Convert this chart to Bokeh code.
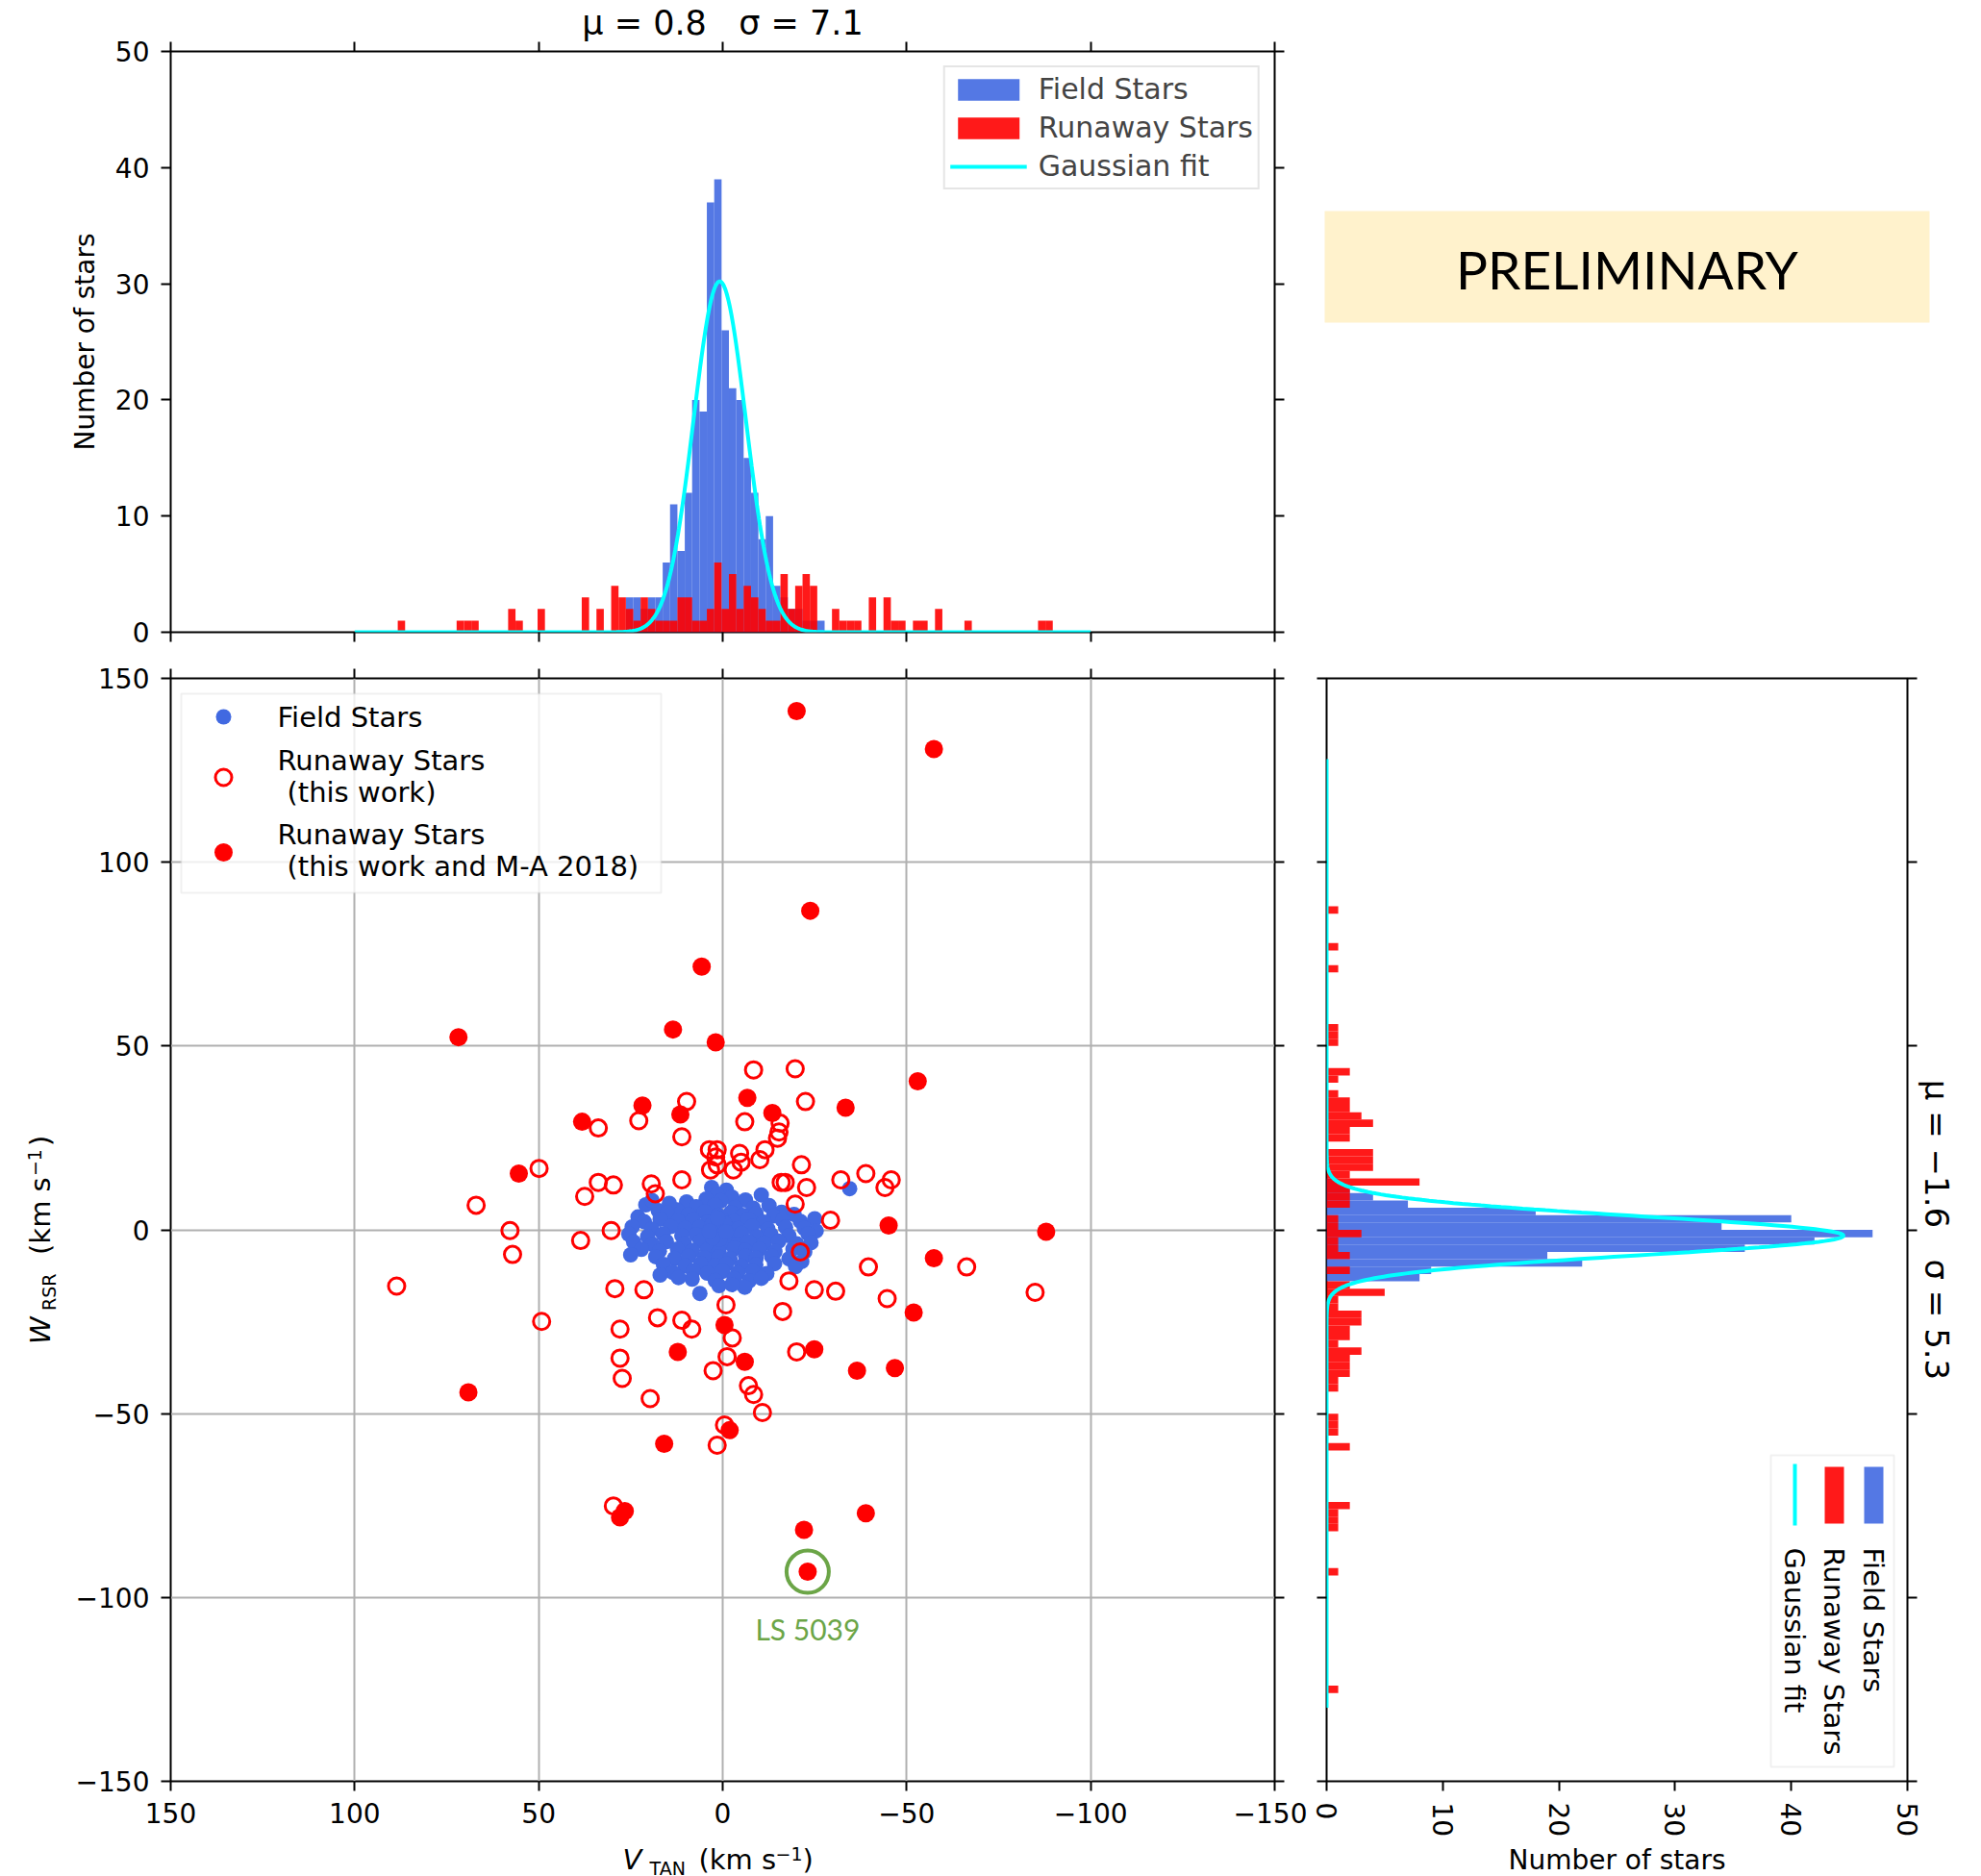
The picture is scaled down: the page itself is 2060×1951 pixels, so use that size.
import math
import numpy as np
from bokeh.plotting import figure
from bokeh.models import (Range1d, FixedTicker, LinearAxis, Label, Legend, LegendItem,
                          BoxAnnotation, Grid)
from bokeh.layouts import row, column
from bokeh.embed import file_html
from bokeh.resources import INLINE
from bokeh.core.properties import value

# ---------------------------------------------------------------- data
# Field stars: (V_TAN, W_RSR) in km/s
FIELD_STARS = [
    (3.0, 11.5), (-1.0, 10.8), (1.5, 9.6), (-34.5, 11.2),
    (4.5, 8.4), (-2.5, 8.9), (0.5, 7.9), (-6.2, 8.1), (9.8, 7.6), (-10.5, 9.5),
    (7.2, 6.3), (2.1, 6.8), (-3.4, 6.1), (-8.3, 5.9), (12.4, 5.4), (-12.6, 6.6),
    (17.5, 5.2), (-16.0, 4.8), (20.9, 6.8), (19.2, 8.0), (14.5, 7.2),
    (15.1, 4.6), (9.3, 4.2), (5.0, 4.9), (1.2, 4.0), (-2.2, 4.7), (-5.4, 3.9),
    (-9.1, 4.4), (-13.8, 3.8), (-19.4, 4.2), (23.0, 3.5),
    (21.3, 2.2), (17.0, 2.9), (12.2, 2.4), (8.1, 2.7), (4.3, 2.0), (0.1, 2.6),
    (-3.1, 2.2), (-7.0, 2.9), (-11.2, 2.1), (-16.3, 2.6), (-21.1, 2.3), (-25.0, 3.0),
    (24.6, 0.8), (19.3, 0.2), (14.1, 0.9), (10.2, 0.4), (6.3, 0.7), (2.2, 0.1),
    (-1.1, 0.8), (-4.2, 0.3), (-8.0, 0.9), (-12.3, 0.2), (-17.1, 0.7), (-22.2, 0.4),
    (-25.4, -0.3),
    (25.5, -1.2), (20.4, -1.8), (16.2, -1.1), (11.1, -1.6), (7.2, -1.3), (3.4, -1.9),
    (0.2, -1.2), (-2.3, -1.7), (-5.1, -1.0), (-9.2, -1.9), (-13.1, -1.3), (-18.0, -1.6),
    (-23.2, -1.1),
    (24.2, -3.3), (19.1, -3.9), (15.3, -3.2), (10.4, -3.7), (6.1, -3.1), (2.3, -3.8),
    (-1.2, -3.4), (-4.0, -3.9), (-7.1, -3.2), (-11.3, -3.6), (-15.2, -3.1), (-20.1, -3.8),
    (-24.0, -3.5),
    (22.1, -5.3), (17.2, -5.8), (12.3, -5.2), (8.2, -5.7), (4.1, -5.4), (1.0, -5.9),
    (-3.2, -5.1), (-6.1, -5.6), (-10.0, -5.3), (-14.2, -5.9), (-19.1, -5.2), (-22.3, -6.0),
    (25.0, -6.8),
    (18.2, -7.3), (13.1, -7.8), (9.3, -7.2), (5.0, -7.6), (1.1, -7.4), (-2.0, -7.9),
    (-6.2, -7.1), (-9.1, -7.7), (-13.3, -7.2), (-18.0, -7.9), (-21.5, -8.6),
    (16.1, -9.4), (10.2, -9.8), (6.0, -9.2), (2.1, -9.7), (-1.0, -9.3), (-5.2, -9.9),
    (-9.0, -9.5), (-14.1, -9.2), (-19.8, -10.0),
    (13.5, -11.6), (8.0, -11.2), (4.2, -11.8), (0.0, -11.3), (-4.1, -11.7), (-8.2, -11.4),
    (-12.0, -11.9), (17.0, -12.3),
    (8.3, -13.4), (2.0, -13.8), (-3.1, -13.3), (-7.2, -13.9), (-10.5, -13.2), (12.0, -13.0),
    (1.0, -15.2), (-6.0, -15.6), (-2.5, -14.9), (6.2, -17.3),
    (1.8, -0.6), (3.0, 1.3), (0.8, -2.6), (2.7, -2.2), (-0.5, 1.7), (1.4, 3.2),
    (3.6, -0.4), (-0.9, -0.5),
]
FIELD_V = [s[0] for s in FIELD_STARS]
FIELD_W = [s[1] for s in FIELD_STARS]

# Runaway stars (this work) -- open circles
RUN_V = [-8.4, -19.7, 9.8, -22.5, 22.8, -6.0, 33.8, -15.6, -15.3, 11.1, 3.6, 1.5, 1.9, 1.5,
         3.3, -4.6, -5.0, -2.9, -10.1, -11.5, -14.9, -21.4, -38.9, -32.1, -15.9, -17.0,
         -22.8, -19.7, -29.3, 11.1, 19.4, 18.3, 29.7, 33.8, 30.3, -21.1, -39.6, 29.3,
         21.4, -18.0, -24.9, -30.7, -0.9, -16.3, 17.7, 11.1, 8.4, 27.9, -2.6, -44.7,
         -66.3, -84.9, 37.5, 38.6, 67.0, 57.8, 57.1, 49.9, 88.6, 49.2, 27.9, 27.3, 19.7,
         -1.2, 2.6, -7.0, -8.4, -10.8, -0.5, 1.5, -20.1, 29.7, -44.1, -45.8]
RUN_W = [43.5, 43.8, 34.9, 34.9, 29.7, 29.4, 27.7, 29.0, 26.6, 25.3, 21.8, 21.8, 19.8, 17.7,
         16.3, 20.8, 18.4, 16.3, 19.1, 21.8, 24.9, 17.7, 15.3, 13.6, 12.9, 12.9,
         11.5, 7.0, 2.6, 13.6, 12.5, 9.8, 12.2, 12.9, -0.2, -6.0, -10.1, -16.0,
         -16.3, -13.9, -16.3, -16.7, -20.4, -22.2, -23.9, -24.6, -27.0, -27.0, -29.4, -18.7,
         -10.1, -17.0, 9.1, -2.9, 6.7, -0.2, -6.7, 16.7, -15.3, -24.9, -34.9, -40.4, -45.9,
         -34.5, -38.3, -42.4, -44.8, -49.7, -53.1, -58.6, -33.2, -75.1, 11.5, 13.6]

# LS 5039
LS5039_V = -23.1
LS5039_W = -93.0

# Runaway stars (this work and M-A 2018) -- filled circles
RUNMA_V = [-20.1, -57.4, -23.8, 5.7, 13.5, 71.8, 1.9, -53.0, -6.7, 21.8, -33.4, 11.5, -13.5,
           38.2, 55.4, -45.1, -87.9, -57.4, -51.9, -0.5, 12.2, -6.0, -24.9, -36.5, -46.8,
           69.1, -1.9, 15.9, -38.9, 26.6, 27.9, -22.1, LS5039_V]
RUNMA_W = [141.1, 130.8, 86.8, 71.6, 54.5, 52.4, 51.0, 40.4, 35.9, 33.8, 33.2, 31.4, 31.8,
           29.4, 15.3, 1.2, -0.5, -7.7, -22.5, -25.9, -33.2, -35.9, -32.5, -38.3, -37.6,
           -44.2, -54.5, -58.2, -77.1, -76.5, -78.2, -81.6, LS5039_W]

BIN_W = 2.0
# Top histogram (V_TAN): lower bin edges and counts
TOP_FIELD_LO = [-27.7, -25.7, -23.7, -21.7, -19.7, -17.7, -15.7, -13.7, -11.7, -9.7, -7.7,
                -5.7, -3.7, -1.7, 0.3, 2.3, 4.3, 6.3, 8.3, 10.3, 12.3, 14.3, 16.3, 18.3,
                20.3, 22.3, 24.3]
TOP_FIELD_N = [1, 1, 1, 2, 2, 3, 4, 10, 8, 12, 15, 20, 21, 26, 39, 37, 19, 20, 12, 7, 11,
               6, 3, 3, 2, 3, 3]
TOP_RUN_LO = [86.3, 70.3, 68.3, 66.3, 56.3, 54.3, 48.3, 36.3, 32.3, 28.3, 26.3, 24.3, 22.3,
              20.3, 18.3, 16.3, 14.3, 12.3, 10.3, 8.3, 6.3, 4.3, 2.3, 0.3, -1.7, -3.7,
              -5.7, -7.7, -9.7, -11.7, -13.7, -15.7, -17.7, -19.7, -21.7, -23.7, -25.7,
              -31.7, -33.7, -35.7, -37.7, -41.7, -45.7, -47.7, -49.7, -53.7, -55.7, -59.7,
              -67.7, -87.7, -89.7]
TOP_RUN_N = [1, 1, 1, 1, 2, 1, 2, 3, 2, 4, 3, 2, 1, 3, 2, 1, 1, 1, 3, 3, 1, 1, 2, 6, 2, 5,
             2, 4, 3, 2, 1, 1, 5, 2, 4, 5, 4, 2, 1, 1, 1, 3, 3, 1, 1, 1, 1, 2, 1, 1, 1]

# Right histogram (W_RSR): lower bin edges and counts
RIGHT_FIELD_LO = [-14, -12, -10, -8, -6, -4, -2, 0, 2, 4, 6, 8, 10, 12]
RIGHT_FIELD_N = [8, 9, 22, 19, 36, 42, 47, 34, 40, 18, 7, 4, 2, 1]
RIGHT_RUN_LO = [86, 76, 70, 54, 52, 50, 42, 40, 36, 34, 32, 30, 28, 26, 24, 20, 18, 16, 14,
                12, 10, 8, 6, 2, 0, -2, -4, -6, -8, -12, -16, -18, -20, -22, -24, -26, -28,
                -30, -32, -34, -36, -38, -40, -42, -44, -52, -54, -56, -60, -76, -78, -80,
                -82, -94, -126]
RIGHT_RUN_N = [1, 1, 1, 1, 1, 1, 2, 1, 1, 2, 2, 3, 4, 2, 2, 4, 4, 4, 2, 8, 2, 2, 2, 1, 1, 3,
               1, 1, 2, 2, 2, 5, 1, 1, 3, 3, 2, 2, 1, 3, 2, 2, 2, 1, 1, 1, 1, 1, 2, 2, 1, 1,
               1, 1, 1]

# Gaussian fits
TOP_FIT_AMP, TOP_FIT_MU, TOP_FIT_SIGMA = 30.2, 0.8, 7.1
RIGHT_FIT_AMP, RIGHT_FIT_MU, RIGHT_FIT_SIGMA = 44.5, -1.6, 5.3
TOP_FIT_RANGE = (-100.0, 100.0)
RIGHT_FIT_RANGE = (-130.0, 128.0)

TICKS_V = [150, 100, 50, 0, -50, -100, -150]
TICKS_W = [-150, -100, -50, 0, 50, 100, 150]
TICKS_N = [0, 10, 20, 30, 40, 50]

# ---------------------------------------------------------------- style
FONT = "DejaVu Sans"
BLUE = "#4169E1"
RED = "#FF0000"
CYAN = "#00FFFF"
GREEN = "#6BA547"
MINUS = "\u2212"
NB = "\u00a0"

# geometry (pixels)
YLAB_W = 75                          # width of the y-label strip
LB, FW, RB = 177, 1148, 34           # left border, main frame width, right border
TOP_T, TOP_H, TOP_B = 53, 604, 28
SC_T, SC_H, SC_B = 20, 1147, 60
RH_L, RH_W, RH_R = 20, 604, 62
PW = 686
TOP_FIG_H = TOP_T + TOP_H + TOP_B     # 685
SC_FIG_H = SC_T + SC_H + SC_B         # 1227
SC_TOP = TOP_FIG_H + SC_T             # 705  (page y of scatter frame top)
SC_BOT = SC_TOP + SC_H                # 1852
STRIP_TOP = TOP_FIG_H + SC_FIG_H      # 1912
STRIP_H = 39
PAGE_W = LB + FW + RB + PW            # 2045
RH_X0 = LB + FW + RB + RH_L           # 1379 (page x of right frame)


def px2v(px):
    return 150 - (px - LB) * 300.0 / FW


def py2w(py):
    return 150 - (py - SC_TOP) * 300.0 / SC_H


def px2n(px):
    return (px - RH_X0) * 50.0 / RH_W


def fmt(t):
    return (MINUS + str(abs(t))) if t < 0 else str(t)


def make_axis(ticks, labels=True, standoff=12, orientation=None):
    ax = LinearAxis(ticker=FixedTicker(ticks=ticks))
    ax.axis_line_color = None
    ax.major_tick_line_color = "black"
    ax.major_tick_line_width = 2
    ax.major_tick_out = 10
    ax.major_tick_in = 0
    ax.minor_tick_line_color = None
    ax.major_label_text_font = FONT
    ax.major_label_text_color = "black"
    ax.axis_label_text_font = FONT
    ax.axis_label_text_font_style = "normal"
    ax.axis_label_text_font_size = "28px"
    ax.axis_label_text_color = "black"
    if labels:
        ax.major_label_text_font_size = "28px"
        ax.major_label_standoff = standoff
        ax.major_label_overrides = {t: fmt(t) for t in ticks}
    else:
        ax.major_label_text_font_size = "1px"
        ax.major_label_standoff = 0
        ax.major_label_overrides = {t: "" for t in ticks}
    if orientation is not None:
        ax.major_label_orientation = orientation
    return ax


def hide_grids(p):
    for g in p.center:
        if isinstance(g, Grid):
            g.visible = False


def base_fig(**kw):
    p = figure(output_backend="svg", toolbar_location=None,
               x_axis_location=None, y_axis_location=None, **kw)
    hide_grids(p)
    p.outline_line_color = "black"
    p.outline_line_width = 2
    p.background_fill_color = "white"
    p.border_fill_color = "white"
    return p


def blank_fig(width, height, x_range, y_range, top=0, bottom=0):
    p = figure(output_backend="svg", toolbar_location=None, title=None,
               x_axis_location=None, y_axis_location=None, width=width, height=height,
               x_range=x_range, y_range=y_range, min_border_left=0, min_border_right=0,
               min_border_top=top, min_border_bottom=bottom)
    hide_grids(p)
    p.outline_line_color = None
    p.background_fill_color = "white"
    p.border_fill_color = "white"
    return p


x_range = Range1d(150, -150)
w_range = Range1d(-150, 150)

# ---------------------------------------------------------------- top histogram
top = base_fig(frame_width=FW, frame_height=TOP_H, x_range=x_range, y_range=Range1d(0, 50),
               min_border_left=LB, min_border_right=RB, min_border_top=TOP_T,
               min_border_bottom=TOP_B,
               title="\u03bc = 0.8" + NB * 3 + "\u03c3 = 7.1", title_location="above")
top.title.align = "center"
top.title.text_font = FONT
top.title.text_font_size = "35px"
top.title.text_font_style = "normal"
top.title.text_color = "black"
top.title.standoff = 0
ax = make_axis(TICKS_N)
ax.axis_label = "Number of stars"
ax.axis_label_standoff = 12
top.add_layout(ax, "left")
top.add_layout(make_axis(TICKS_N, labels=False), "right")
top.add_layout(make_axis(TICKS_V, labels=False), "below")
top.add_layout(make_axis(TICKS_V, labels=False), "above")

r_tf = top.quad(left=[lo + BIN_W for lo in TOP_FIELD_LO], right=TOP_FIELD_LO, bottom=0,
                top=TOP_FIELD_N, fill_color=BLUE, fill_alpha=0.9, line_color=None)
r_tr = top.quad(left=[lo + BIN_W for lo in TOP_RUN_LO], right=TOP_RUN_LO, bottom=0,
                top=TOP_RUN_N, fill_color=RED, fill_alpha=0.9, line_color=None)
gx = np.linspace(TOP_FIT_RANGE[0], TOP_FIT_RANGE[1], 800)
gy = TOP_FIT_AMP * np.exp(-0.5 * ((gx - TOP_FIT_MU) / TOP_FIT_SIGMA) ** 2)
r_tg = top.line(gx, gy, line_color=CYAN, line_width=4)

leg = Legend(items=[LegendItem(label="Field Stars", renderers=[r_tf]),
                    LegendItem(label="Runaway Stars", renderers=[r_tr]),
                    LegendItem(label="Gaussian fit", renderers=[r_tg])],
             location="top_right")
leg.label_text_font = FONT
leg.label_text_font_size = "30px"
leg.label_height = 30
leg.glyph_width = 80
leg.glyph_height = 28
leg.label_standoff = 12
leg.spacing = 5
leg.padding = 5
leg.margin = 15
leg.border_line_color = "#cccccc"
leg.border_line_width = 2
leg.background_fill_alpha = 0.8
top.add_layout(leg)

# ---------------------------------------------------------------- preliminary box
# page coordinates (y stored negated); borders equal to the neighbouring histogram
PX0 = LB + FW + RB
prel = blank_fig(PW, TOP_FIG_H, Range1d(PX0, PX0 + PW), Range1d(-(TOP_T + TOP_H), -TOP_T),
                 top=TOP_T, bottom=TOP_B)
prel.quad(left=[1377], right=[2006], bottom=[-335], top=[-219], fill_color="#FFF2CC",
          line_color=None)
prel.text(x=[1691.5], y=[-279], text=["PRELIMINARY"], text_font=value("Lato"),
          text_font_size="55px", text_align="center", text_baseline="middle",
          text_color="black")

# ---------------------------------------------------------------- scatter
SC_LB = LB - YLAB_W
sc = base_fig(frame_width=FW, frame_height=SC_H, x_range=x_range, y_range=w_range,
              min_border_left=SC_LB, min_border_right=RB, min_border_top=SC_T,
              min_border_bottom=SC_B, title=None)
sc.add_layout(make_axis(TICKS_W), "left")
sc.add_layout(make_axis(TICKS_W, labels=False), "right")
sc.add_layout(make_axis(TICKS_V), "below")
sc.add_layout(make_axis(TICKS_V, labels=False), "above")
sc.add_layout(Grid(dimension=0, ticker=FixedTicker(ticks=TICKS_V), grid_line_color="#b0b0b0",
                   grid_line_width=2))
sc.add_layout(Grid(dimension=1, ticker=FixedTicker(ticks=TICKS_W), grid_line_color="#b0b0b0",
                   grid_line_width=2))
box = BoxAnnotation(left=px2v(188), right=px2v(687), top=py2w(721), bottom=py2w(928),
                    fill_color="white", fill_alpha=0.8, line_color="#cccccc", line_width=2,
                    level="underlay")
sc.add_layout(box)

sc.scatter(FIELD_V, FIELD_W, marker="circle", size=16, fill_color=BLUE, line_color=None)
sc.scatter(RUN_V, RUN_W, marker="circle", size=17, fill_color=None, line_color=RED,
           line_width=3)
sc.scatter(RUNMA_V, RUNMA_W, marker="circle", size=19, fill_color=RED, line_color=None)
sc.scatter([LS5039_V], [LS5039_W], marker="circle", size=44, fill_color=None,
           line_color=GREEN, line_width=4)
sc.text(x=[LS5039_V], y=[py2w(1693)], text=["LS 5039"], text_font=value("Lato"),
        text_font_size="30px", text_align="center", text_baseline="middle",
        text_color=GREEN)

# manual legend
mx = px2v(232)
sc.scatter([mx], [py2w(745)], marker="circle", size=16, fill_color=BLUE, line_color=None)
sc.scatter([mx], [py2w(808)], marker="circle", size=17, fill_color=None, line_color=RED,
           line_width=3)
sc.scatter([mx], [py2w(886)], marker="circle", size=19, fill_color=RED, line_color=None)
for txt, tx, ty in [("Field Stars", 288, 745), ("Runaway Stars", 288, 790),
                    ("(this work)", 298, 823), ("Runaway Stars", 288, 867),
                    ("(this work and M-A 2018)", 298, 900)]:
    sc.add_layout(Label(x=px2v(tx), y=py2w(ty), text=txt, text_font=FONT,
                        text_font_size="29px", text_align="left", text_baseline="middle",
                        text_color="black"))

# ---------------------------------------------------------------- y-label strip (rotated)
ylab = blank_fig(YLAB_W, SC_FIG_H, Range1d(0, YLAB_W), Range1d(-SC_BOT, -SC_TOP),
                 top=SC_T, bottom=SC_B)
YC = 41
for txt, px, py, size, style in [("W", YC, 1398, "29px", "italic"),
                                 ("RSR", YC + 9, 1363, "19px", "normal"),
                                 ("(km s", YC, 1305, "29px", "normal"),
                                 (MINUS + "1", YC - 6, 1223, "19px", "normal"),
                                 (")", YC, 1192, "29px", "normal")]:
    ylab.text(x=[px], y=[-py], text=[txt], text_font=value(FONT), text_font_size=size,
              text_font_style=style, text_align="left", text_baseline="middle",
              angle=math.pi / 2, text_color="black")

# ---------------------------------------------------------------- right histogram
rh = base_fig(frame_width=RH_W, frame_height=SC_H, x_range=Range1d(0, 50), y_range=w_range,
              min_border_left=RH_L, min_border_right=RH_R, min_border_top=SC_T,
              min_border_bottom=SC_B,
              title="\u03bc = " + MINUS + "1.6" + NB * 3 + "\u03c3 = 5.3",
              title_location="right")
rh.title.align = "center"
rh.title.text_font = FONT
rh.title.text_font_size = "34px"
rh.title.text_font_style = "normal"
rh.title.text_color = "black"
rh.title.standoff = 0
rh.add_layout(make_axis(TICKS_N, orientation=-math.pi / 2, standoff=12), "below")
rh.add_layout(make_axis(TICKS_W, labels=False), "left")
rh.add_layout(make_axis(TICKS_W, labels=False), "right")

rh.quad(left=0, right=RIGHT_FIELD_N, bottom=RIGHT_FIELD_LO,
        top=[lo + BIN_W for lo in RIGHT_FIELD_LO], fill_color=BLUE, fill_alpha=0.9,
        line_color=None)
rh.quad(left=0, right=RIGHT_RUN_N, bottom=RIGHT_RUN_LO,
        top=[lo + BIN_W for lo in RIGHT_RUN_LO], fill_color=RED, fill_alpha=0.9,
        line_color=None)
gw = np.linspace(RIGHT_FIT_RANGE[0], RIGHT_FIT_RANGE[1], 1200)
gn = RIGHT_FIT_AMP * np.exp(-0.5 * ((gw - RIGHT_FIT_MU) / RIGHT_FIT_SIGMA) ** 2)
rh.line(gn, gw, line_color=CYAN, line_width=4)

# rotated legend
rbox = BoxAnnotation(left=px2n(1841), right=px2n(1969), top=py2w(1513), bottom=py2w(1837),
                     fill_color="white", fill_alpha=0.8, line_color="#cccccc", line_width=2,
                     level="underlay")
rh.add_layout(rbox)
rh.quad(left=[px2n(1938)], right=[px2n(1958)], top=[py2w(1525)], bottom=[py2w(1584)],
        fill_color=BLUE, fill_alpha=0.9, line_color=None)
rh.quad(left=[px2n(1897)], right=[px2n(1917)], top=[py2w(1525)], bottom=[py2w(1584)],
        fill_color=RED, fill_alpha=0.9, line_color=None)
rh.line([px2n(1866), px2n(1866)], [py2w(1522), py2w(1586)], line_color=CYAN, line_width=4)
for txt, px in [("Field Stars", 1947), ("Runaway Stars", 1906), ("Gaussian fit", 1865)]:
    rh.add_layout(Label(x=px2n(px), y=py2w(1609), text=txt, text_font=FONT,
                        text_font_size="29px", text_align="left", text_baseline="middle",
                        angle=-math.pi / 2, text_color="black"))

# ---------------------------------------------------------------- bottom strip (x labels)
strip = blank_fig(PAGE_W, STRIP_H, Range1d(0, PAGE_W),
                  Range1d(-(STRIP_TOP + STRIP_H), -STRIP_TOP))
XC = 1932
for txt, px, py, size, style in [("V", 647, XC, "29px", "italic"),
                                 ("TAN", 675, XC + 9, "19px", "normal"),
                                 ("(km s", 726, XC, "29px", "normal"),
                                 (MINUS + "1", 806, XC - 6, "19px", "normal"),
                                 (")", 834, XC, "29px", "normal")]:
    strip.text(x=[px], y=[-py], text=[txt], text_font=value(FONT), text_font_size=size,
               text_font_style=style, text_align="left", text_baseline="middle",
               text_color="black")
strip.text(x=[RH_X0 + RH_W / 2], y=[-1933], text=["Number of stars"], text_font=value(FONT),
           text_font_size="28px", text_align="center", text_baseline="middle",
           text_color="black")

layout = column(row(top, prel), row(ylab, sc, rh), strip)
open("out.html", "w").write(file_html(layout, INLINE))
